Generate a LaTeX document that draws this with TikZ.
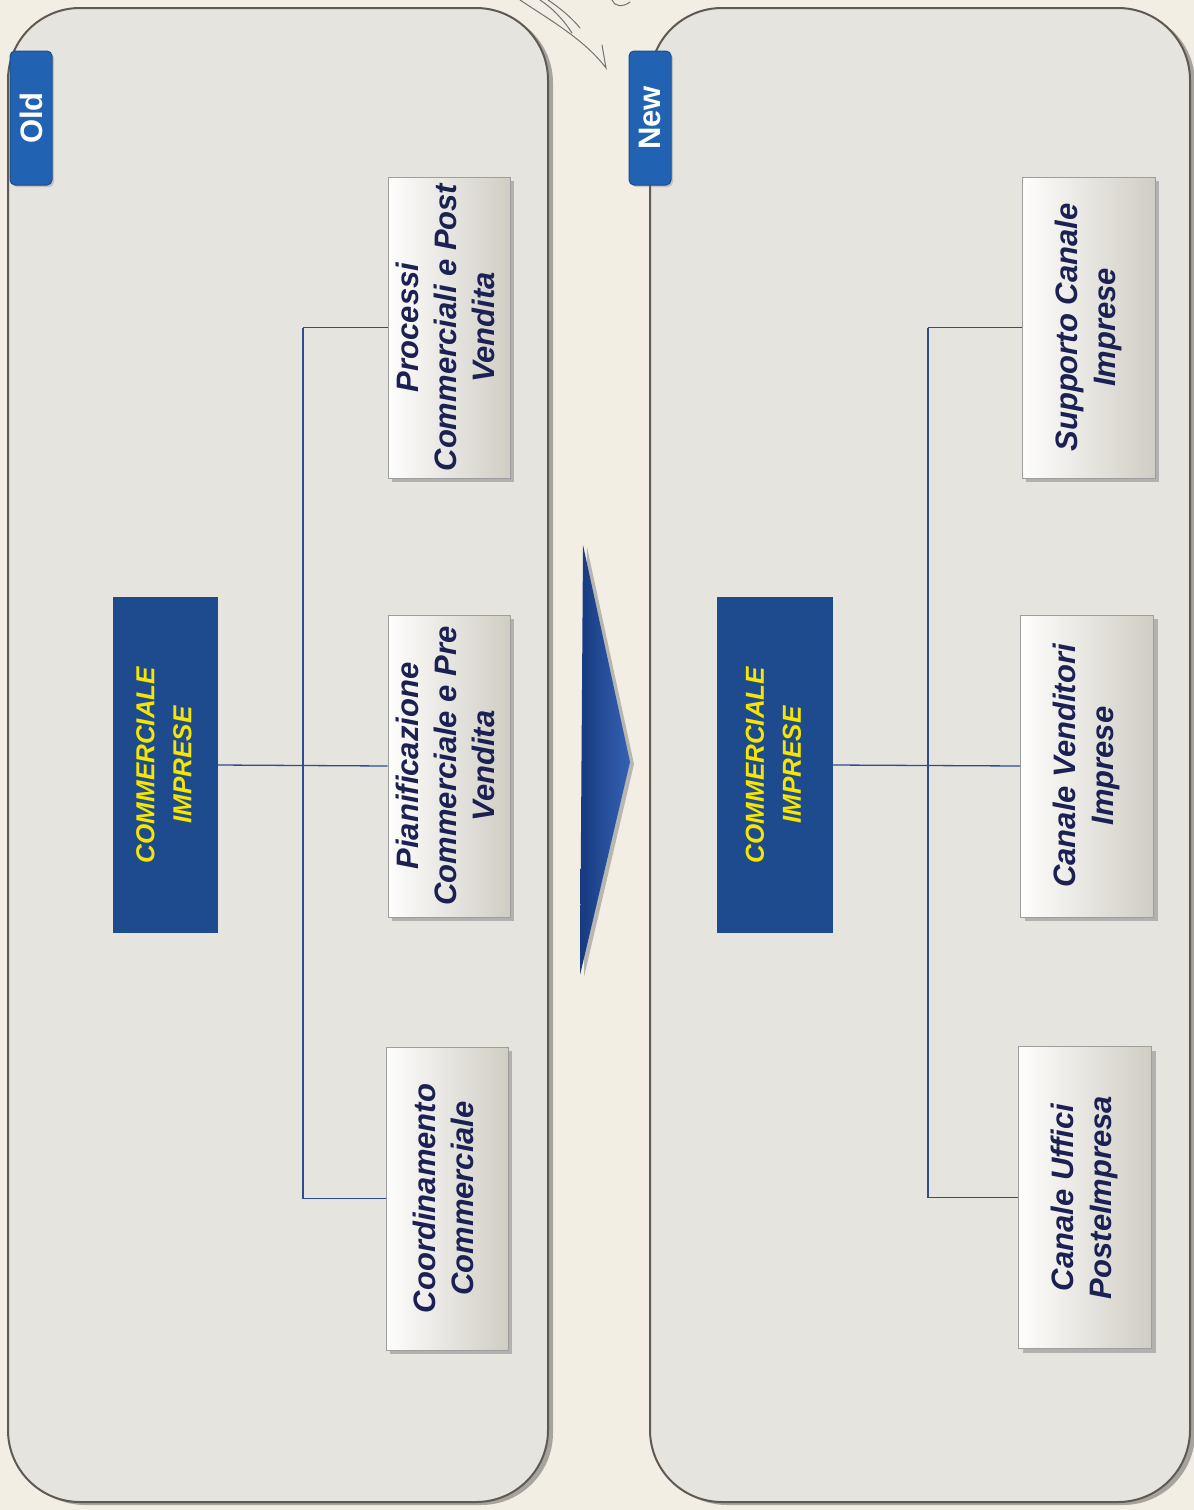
\documentclass[tikz,border=0pt]{standalone}
\usepackage{fontspec}
\setmainfont{Liberation Sans}
\usetikzlibrary{shadows}
\definecolor{bgcream}{HTML}{F2EEE3}
\definecolor{panelgray}{HTML}{E6E4DF}
\definecolor{panelline}{HTML}{5E5A53}
\definecolor{navybox}{HTML}{1E4A8E}
\definecolor{yellowtxt}{HTML}{F4E600}
\definecolor{tagblue}{HTML}{2162B3}
\definecolor{connblue}{HTML}{2E4D8E}
\definecolor{childtxt}{HTML}{1B2152}
\definecolor{arrowdark}{HTML}{173A80}
\definecolor{arrowlight}{HTML}{3562B3}
\newcommand\rtext[1]{\rotatebox{90}{\begin{tabular}{@{}c@{}}#1\end{tabular}}}
\tikzset{
  panel/.style={fill=panelgray, draw=panelline, line width=2pt, rounded corners=72pt,
    drop shadow={shadow xshift=5pt, shadow yshift=-3pt, opacity=0.45, fill=black!70}},
  tagbox/.style={fill=tagblue, draw=tagblue!80!black, line width=1pt, rounded corners=5pt,
    minimum width=42pt, minimum height=134pt, inner sep=0pt, text=white,
    font=\fontsize{31}{36}\selectfont\bfseries,
    drop shadow={shadow xshift=2pt, shadow yshift=-2pt, opacity=0.35}},
  headbox/.style={fill=navybox, inner sep=0pt, text=yellowtxt,
    font=\fontsize{26}{37}\selectfont\bfseries\itshape},
  childbox/.style={left color=white!92!bgcream, right color=bgcream!85!black!95,
    draw=black!38, line width=0.8pt, inner sep=0pt, text=childtxt,
    font=\fontsize{31}{38}\selectfont\bfseries\itshape,
    drop shadow={shadow xshift=4pt, shadow yshift=-4pt, opacity=0.5}},
  conn/.style={draw=connblue, line width=1.3pt},
  scribble/.style={draw=black!55, line width=1pt, line cap=round}
}
\begin{document}
\begin{tikzpicture}[x=1pt,y=-1pt]
\useasboundingbox (0,0) rectangle (1194,1510);
\fill[bgcream] (0,0) rectangle (1194,1510);
% scribble
\draw[scribble] (520,0) .. controls (550,20) and (585,40) .. (606,68) -- (602,45);
\draw[scribble] (540,0) .. controls (555,10) and (565,22) .. (572,33);
\draw[scribble] (548,0) .. controls (560,8) and (572,18) .. (580,28);
\draw[scribble] (612,0) .. controls (614,6) and (622,8) .. (630,2);
% panels
\path[panel] (8,8) rectangle (548,1502);
\path[panel] (650,8) rectangle (1190,1502);
% tags
\node[tagbox] (oldtag) at (31,118) {\rotatebox{90}{Old}};
\node[tagbox] (newtag) at (650,118) {\rotatebox{90}{New}};
% arrow
\path[left color=arrowdark, right color=arrowlight,
  drop shadow={shadow xshift=4pt, shadow yshift=-2pt, opacity=0.5}]
  (583,545) -- (630,762) -- (580,975) -- cycle;
% old side
\node[headbox, minimum width=105pt, minimum height=336pt] (oc) at (165.5,765)
  {\rtext{COMMERCIALE\\IMPRESE}};
\node[childbox, minimum width=122pt, minimum height=301pt] (o1) at (449,327.5)
  {\rtext{Processi\\Commerciali e Post\\Vendita}};
\node[childbox, minimum width=122pt, minimum height=302pt] (o2) at (449,766)
  {\rtext{Pianificazione\\Commerciale e Pre\\Vendita}};
\node[childbox, minimum width=122pt, minimum height=303pt] (o3) at (447,1198.5)
  {\rtext{Coordinamento\\Commerciale}};
\coordinate (ob) at (303,765);
\draw[conn] (oc.east) -- (o2.west);
\draw[conn] (ob |- o1.west) -- (ob |- o3.west);
\draw[conn] (o1.west) -- (ob |- o1.west);
\draw[conn] (o3.west) -- (ob |- o3.west);
% new side
\node[headbox, minimum width=116pt, minimum height=336pt] (nc) at (775,765)
  {\rtext{COMMERCIALE\\IMPRESE}};
\node[childbox, minimum width=133pt, minimum height=301pt] (n1) at (1088.5,327.5)
  {\rtext{Supporto Canale\\Imprese}};
\node[childbox, minimum width=133pt, minimum height=302pt] (n2) at (1087,766)
  {\rtext{Canale Venditori\\Imprese}};
\node[childbox, minimum width=133pt, minimum height=302pt] (n3) at (1085,1197.5)
  {\rtext{Canale Uffici\\PosteImpresa}};
\coordinate (nb) at (928,765);
\draw[conn] (nc.east) -- (n2.west);
\draw[conn] (nb |- n1.west) -- (nb |- n3.west);
\draw[conn] (n1.west) -- (nb |- n1.west);
\draw[conn] (n3.west) -- (nb |- n3.west);
\end{tikzpicture}
\end{document}
